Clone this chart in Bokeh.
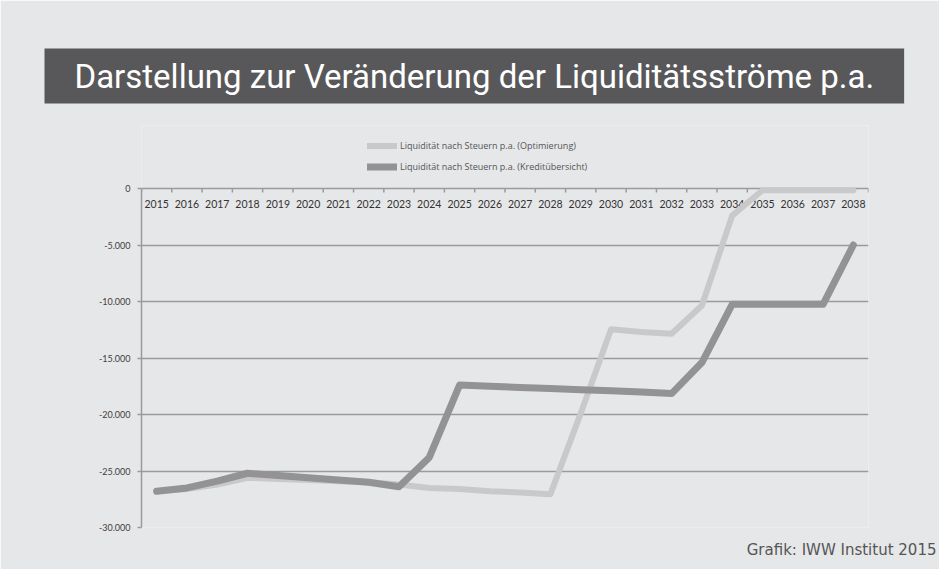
from bokeh.plotting import figure
from bokeh.models import (ColumnDataSource, FixedTicker, Legend, LegendItem,
                          Range1d, Title)
from bokeh.core.properties import value
from bokeh.embed import file_html
from bokeh.resources import INLINE

years = list(range(2015, 2039))
year_labels = [str(y) for y in years]
optimierung = [-26800, -26600, -26200, -25600, -25700, -25800, -25900, -26000,
               -26200, -26500, -26600, -26800, -26900, -27050, -19900, -12450,
               -12700, -12850, -10350, -2400, -150, -150, -150, -150]
kredit = [-26800, -26500, -25900, -25200, -25400, -25600, -25800, -26000,
          -26400, -23800, -17400, -17500, -17600, -17700, -17800, -17900,
          -18000, -18150, -15400, -10250, -10250, -10250, -10250, -5000]
y_ticks = [0, -5000, -10000, -15000, -20000, -25000, -30000]
y_tick_labels = ["0", "-5.000", "-10.000", "-15.000", "-20.000", "-25.000", "-30.000"]
series_names = ["Liquidität nach Steuern p.a. (Optimierung)",
                "Liquidität nach Steuern p.a. (Kreditübersicht)"]
title_text = "Darstellung zur Veränderung der Liquiditätsströme p.a."
source_text = "Grafik: IWW Institut 2015"

BG = "#e6e7e9"
GRID = "#9a9a9c"
LIGHT = "#c9c9cb"
DARK = "#939395"

# page geometry (pixels)
FL, FR, FB = 141, 868, 527      # frame left / right / bottom
ZERO_Y = 188                    # pixel row of the value 0 (top axis line)
FT = 125                        # frame top (room for the legend inside)
Y_MIN = -30000
units_per_px = (0 - Y_MIN) / (FB - ZERO_Y)
y_max = (ZERO_Y - FT) * units_per_px

p = figure(width=939, height=569, output_backend="svg", toolbar_location=None,
           x_range=Range1d(years[0] - 0.5, years[-1] + 0.5),
           y_range=Range1d(Y_MIN, y_max),
           x_axis_location=None,
           min_border_left=FL, min_border_right=939 - FR,
           min_border_top=FT, min_border_bottom=569 - FB)
p.background_fill_color = BG
p.border_fill_color = BG
p.outline_line_color = None

p.yaxis.ticker = FixedTicker(ticks=y_ticks)
p.yaxis.bounds = (Y_MIN, 0)
p.yaxis.major_label_overrides = dict(zip(y_ticks, y_tick_labels))
p.yaxis.major_label_text_font = "Lato"
p.yaxis.major_label_text_font_size = "9px"
p.yaxis.major_label_text_color = "#404040"
p.yaxis.major_label_standoff = 7
p.yaxis.axis_line_color = GRID
p.yaxis.axis_line_width = 1.5
p.yaxis.major_tick_line_color = GRID
p.yaxis.major_tick_line_width = 1.5
p.yaxis.major_tick_in = 0
p.yaxis.major_tick_out = 4
p.yaxis.minor_tick_line_color = None

p.xgrid.grid_line_color = None
p.ygrid.ticker = FixedTicker(ticks=y_ticks)
p.ygrid.grid_line_color = GRID
p.ygrid.grid_line_width = 1.5

# category boundary ticks hanging from the zero line (4 px long)
bounds = [y - 0.5 for y in years] + [years[-1] + 0.5]
tick_len = 4 * units_per_px
tick_src = ColumnDataSource(dict(x=bounds, y0=[0] * len(bounds),
                                 y1=[-tick_len] * len(bounds)))
p.segment(x0="x", y0="y0", x1="x", y1="y1", source=tick_src,
          line_color=GRID, line_width=1.5)

# year labels under the zero line
lab_src = ColumnDataSource(dict(x=years, y=[0] * len(years), t=year_labels))
p.text(x="x", y="y", text="t", source=lab_src, y_offset=15,
       text_align="center", text_baseline="middle",
       text_font=value("Lato"), text_font_size="10.5px", text_color="#333333")

src = ColumnDataSource(dict(year=years, opt=optimierung, kre=kredit))
r1 = p.line("year", "opt", source=src, line_color=LIGHT, line_width=6,
            line_join="round", line_cap="round")
r2 = p.line("year", "kre", source=src, line_color=DARK, line_width=7,
            line_join="round", line_cap="round")

legend = Legend(items=[LegendItem(label=series_names[0], renderers=[r1]),
                       LegendItem(label=series_names[1], renderers=[r2])],
                location=(367 - FL, FB - 173.5))
legend.background_fill_alpha = 0
legend.border_line_color = None
legend.padding = 0
legend.margin = 0
legend.spacing = 6
legend.label_height = 15
legend.glyph_height = 15
legend.glyph_width = 30
legend.label_standoff = 3
legend.label_text_font = "Open Sans"
legend.label_text_font_size = "9px"
legend.label_text_color = "#555555"
p.add_layout(legend)

p.title.text = title_text
p.title.align = "left"
p.title.offset = 44 - FL
p.title.standoff = 44
p.title.text_font = "Roboto"
p.title.text_font_size = "33px"
p.title.text_color = "white"
p.title.text_font_style = "normal"
p.title.background_fill_color = "#58585a"
p.title.padding = dict(left=30, right=30, top=8, bottom=8)

footer = Title(text=source_text, align="right", offset=FR - 936, standoff=22,
               text_font="DejaVu Sans", text_font_size="15px", text_color="#555555",
               text_font_style="normal")
p.add_layout(footer, "below")

open("out.html", "w").write(file_html(p, INLINE))
